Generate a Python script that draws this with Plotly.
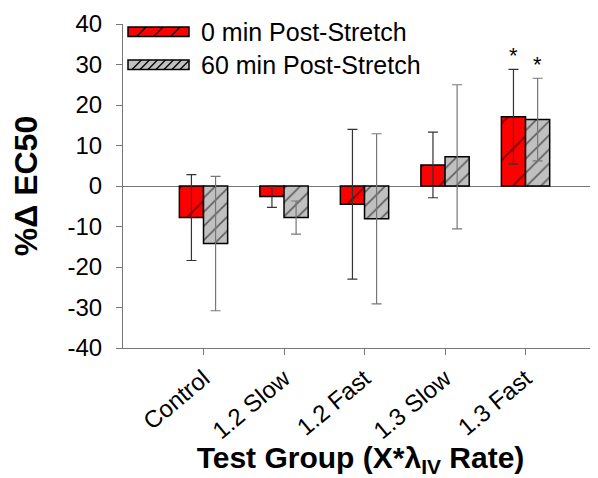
import plotly.graph_objects as go

categories = ["Control", "1.2 Slow", "1.2 Fast", "1.3 Slow", "1.3 Fast"]
mean_0min = [-7.8, -2.6, -4.5, 5.2, 17.1]
err_0min = [10.6, 2.7, 18.5, 8.1, 11.7]
mean_60min = [-14.2, -7.8, -8.1, 7.2, 16.4]
err_60min = [16.6, 4.1, 21.0, 17.8, 10.2]
sig_0min = [False, False, False, False, True]
sig_60min = [False, False, False, False, True]
series_names = ["0 min Post-Stretch", "60 min Post-Stretch"]
y_tick_vals = [-40, -30, -20, -10, 0, 10, 20, 30, 40]
y_tick_text = ["-40", "-30", "-20", "-10", "0", "10", "20", "30", "40"]

FONT = "Arial, Liberation Sans, sans-serif"
RED = "#ff0000"
GRAY = "#c0c0c0"

# page layout (browser body has an 8px margin)
W, H = 590, 470
ML, MR, MT, MB = 115, 0, 16, 130
PX0, PY0 = 8 + ML, 8 + MT            # plot area top-left in page px
PW, PH = W - ML - MR, H - MT - MB     # plot area size


def px_x(px):
    return (px - PX0) / PW


def px_y(py):
    return (PY0 + PH - py) / PH


fig = go.Figure()
fig.add_trace(go.Bar(
    x=categories, y=mean_0min, name=series_names[0],
    marker=dict(color=RED, line=dict(color="black", width=1.5),
                pattern=dict(shape="/", size=26, solidity=0.07, fgcolor="black", bgcolor=RED)),
    error_y=dict(type="data", array=err_0min, visible=True, color="#333333", thickness=1.2, width=5),
    showlegend=False,
))
fig.add_trace(go.Bar(
    x=categories, y=mean_60min, name=series_names[1],
    marker=dict(color=GRAY, line=dict(color="black", width=1.5),
                pattern=dict(shape="/", size=10, solidity=0.17, fgcolor="black", bgcolor=GRAY)),
    error_y=dict(type="data", array=err_60min, visible=True, color="#777777", thickness=1.2, width=5),
    showlegend=False,
))

annotations = []
for i, c in enumerate(categories):
    if sig_0min[i]:
        annotations.append(dict(x=c, y=mean_0min[i] + err_0min[i], xref="x", yref="y",
                                text="*", showarrow=False, xshift=-12, yshift=14,
                                font=dict(family=FONT, size=22, color="black")))
    if sig_60min[i]:
        annotations.append(dict(x=c, y=mean_60min[i] + err_60min[i], xref="x", yref="y",
                                text="*", showarrow=False, xshift=12, yshift=14,
                                font=dict(family=FONT, size=22, color="black")))

# custom legend (wide swatches as in the reference)
shapes = []
legend_rows = [(RED, 27, 36.5, 17), (GRAY, 60, 69.5, 8)]
SX0, SX1 = 128, 189
for (col, ytop, ybot, step), name in zip(legend_rows, series_names):
    shapes.append(dict(type="rect", xref="paper", yref="paper",
                       x0=px_x(SX0), x1=px_x(SX1), y0=px_y(ybot), y1=px_y(ytop),
                       fillcolor=col, line=dict(color="black", width=1.5), layer="above"))
    h = ybot - ytop
    xs = SX0 + step / 2
    while xs < SX1:
        xa = xs
        xb = min(xs + h, SX1)
        shapes.append(dict(type="line", xref="paper", yref="paper",
                           x0=px_x(xa), x1=px_x(xb), y0=px_y(ybot), y1=px_y(ybot - (xb - xa)),
                           line=dict(color="black", width=1.2), layer="above"))
        xs += step
    annotations.append(dict(xref="paper", yref="paper", x=px_x(199), y=px_y((ytop + ybot) / 2),
                            xanchor="left", yanchor="middle", text=name, showarrow=False,
                            font=dict(family=FONT, size=25, color="black")))

fig.update_layout(
    width=W, height=H,
    margin=dict(l=ML, r=MR, t=MT, b=MB, autoexpand=False),
    paper_bgcolor="white", plot_bgcolor="white",
    barmode="group", bargap=0.4, bargroupgap=0,
    font=dict(family=FONT, color="black"),
    annotations=annotations, shapes=shapes,
    xaxis=dict(
        range=[-1, 4.9], showline=True, linecolor="#777777", linewidth=1.2,
        ticks="outside", ticklen=6, tickcolor="#777777", tickangle=-40,
        tickfont=dict(family=FONT, size=24, color="black"),
        title=dict(text="<b>Test Group (X*λ<sub>IV</sub> Rate)</b>", standoff=3,
                   font=dict(family=FONT, size=30, color="black")),
        showgrid=False, zeroline=False, automargin=False,
    ),
    yaxis=dict(
        range=[-40, 40], tickvals=y_tick_vals, ticktext=y_tick_text,
        showline=True, linecolor="#777777", linewidth=1.2,
        ticks="outside", ticklen=6, tickcolor="#777777", ticklabelstandoff=9,
        tickfont=dict(family=FONT, size=24, color="black"),
        title=dict(text="<b>%Δ EC50</b>", standoff=24,
                   font=dict(family=FONT, size=32, color="black")),
        showgrid=False, zeroline=True, zerolinecolor="#777777", zerolinewidth=1.2,
        automargin=False,
    ),
)

fig.write_html("out.html")
